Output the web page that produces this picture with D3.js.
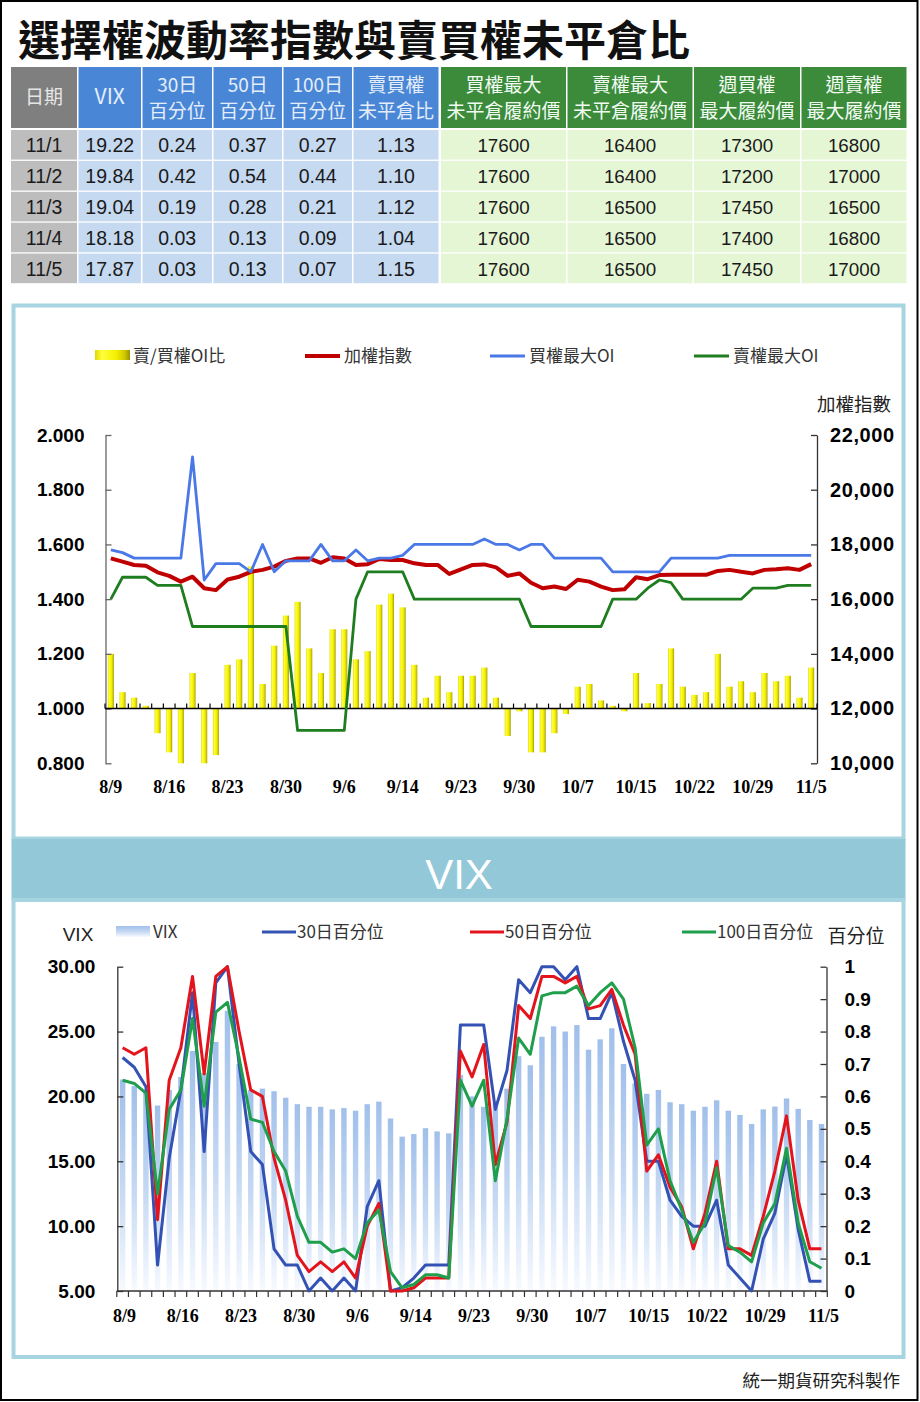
<!DOCTYPE html>
<html><head><meta charset="utf-8">
<script src="https://cdn.jsdelivr.net/npm/d3@7"></script>
<style>body{margin:0;background:#fff;} svg{display:block;}</style>
</head><body><svg id="c" width="920" height="1402"></svg>
<script>
// ---------------- DATA ----------------
const titleText = "選擇權波動率指數與賣買權未平倉比";
const dates = ["8/9","8/10","8/11","8/12","8/13","8/16","8/17","8/18","8/19","8/20","8/23","8/24","8/25","8/26","8/27","8/30","8/31","9/1","9/2","9/3","9/6","9/7","9/8","9/9","9/10","9/14","9/15","9/16","9/17","9/22","9/23","9/24","9/27","9/28","9/29","9/30","10/1","10/4","10/5","10/6","10/7","10/8","10/12","10/13","10/14","10/15","10/18","10/19","10/20","10/21","10/22","10/25","10/26","10/27","10/28","10/29","11/1","11/2","11/3","11/4","11/5"];
const xTickLabels = ["8/9","8/16","8/23","8/30","9/6","9/14","9/23","9/30","10/7","10/15","10/22","10/29","11/5"];

// chart 1
const pcRatio = [1.20,1.06,1.04,1.01,0.91,0.84,0.80,1.13,0.80,0.83,
  1.16,1.18,1.52,1.09,1.23,1.34,1.39,1.22,1.13,1.29,
  1.29,1.18,1.21,1.38,1.42,1.37,1.16,1.04,1.12,1.06,
  1.12,1.12,1.15,1.04,0.90,0.99,0.84,0.84,0.91,0.98,
  1.08,1.09,1.03,1.01,0.99,1.13,1.02,1.09,1.22,1.08,
  1.05,1.06,1.20,1.08,1.10,1.06,1.13,1.10,1.12,1.04,1.15];
const taiex = [17490,17370,17250,17220,16980,16850,16640,16820,16400,16330,
  16720,16820,17000,17070,17190,17400,17490,17490,17330,17530,
  17490,17250,17280,17470,17430,17430,17310,17250,17250,16920,
  17090,17250,17270,17160,16850,16940,16600,16400,16460,16370,
  16710,16640,16460,16330,16360,16800,16730,16880,16890,16890,
  16890,16890,17030,17070,17000,16940,17070,17090,17130,17070,17280];
const callMaxOI = [17800,17700,17500,17500,17500,17500,17500,21200,16700,17300,
  17300,17300,17000,18000,17000,17400,17400,17400,18000,17400,
  17400,17800,17400,17500,17500,17600,18000,18000,18000,18000,
  18000,18000,18200,18000,18000,17800,18000,18000,17500,17500,
  17500,17500,17500,17000,17000,17000,17000,17000,17500,17500,
  17500,17500,17500,17600,17600,17600,17600,17600,17600,17600,17600];
const putMaxOI = [16000,16800,16800,16800,16500,16500,16500,15000,15000,15000,
  15000,15000,15000,15000,15000,15000,11200,11200,11200,11200,
  11200,16000,17000,17000,17000,17000,16000,16000,16000,16000,
  16000,16000,16000,16000,16000,16000,15000,15000,15000,15000,
  15000,15000,15000,16000,16000,16000,16400,16700,16600,16000,
  16000,16000,16000,16000,16000,16400,16400,16400,16500,16500,16500];
const leftTicks1 = [0.8,1.0,1.2,1.4,1.6,1.8,2.0];
const rightTicks1 = [10000,12000,14000,16000,18000,20000,22000];
const legend1 = ["賣/買權OI比","加權指數","買權最大OI","賣權最大OI"];

// chart 2
const vix = [21.3,20.8,20.5,19.3,20.5,21.5,23.5,21.8,24.2,26.6,
  22.5,20.5,20.6,20.4,19.9,19.4,19.2,19.2,19.0,19.1,
  18.9,19.4,19.6,18.3,16.9,17.1,17.55,17.3,17.15,21.65,
  20.0,19.2,19.5,20.6,23.1,22.4,24.6,25.4,25.0,25.5,
  23.6,24.4,25.25,22.5,21.0,20.2,20.5,19.55,19.4,18.9,
  19.2,19.7,18.9,18.57,17.87,19.0,19.22,19.84,19.04,18.18,17.87];
const pct30 = [0.72,0.69,0.63,0.08,0.41,0.62,0.92,0.43,0.95,1.00,
  0.70,0.43,0.39,0.13,0.08,0.08,0.00,0.04,0.00,0.04,
  0.00,0.26,0.34,0.00,0.01,0.04,0.08,0.08,0.08,0.82,
  0.82,0.82,0.56,0.68,0.96,0.92,1.00,1.00,0.96,1.00,
  0.84,0.84,0.92,0.77,0.65,0.40,0.40,0.28,0.23,0.20,
  0.20,0.28,0.08,0.04,0.00,0.16,0.24,0.42,0.19,0.03,0.03];
const pct50 = [0.75,0.73,0.75,0.22,0.65,0.75,0.97,0.67,0.97,1.00,
  0.80,0.62,0.60,0.41,0.28,0.11,0.06,0.09,0.06,0.09,
  0.04,0.20,0.27,0.00,0.00,0.01,0.04,0.04,0.04,0.74,
  0.66,0.76,0.39,0.52,0.88,0.84,0.97,0.97,0.95,0.97,
  0.87,0.88,0.93,0.82,0.73,0.37,0.42,0.32,0.26,0.13,
  0.24,0.40,0.13,0.13,0.11,0.23,0.37,0.54,0.28,0.13,0.13];
const pct100 = [0.65,0.64,0.61,0.30,0.56,0.62,0.84,0.57,0.86,0.89,
  0.72,0.53,0.52,0.43,0.37,0.23,0.15,0.15,0.12,0.13,
  0.10,0.21,0.25,0.06,0.01,0.02,0.05,0.05,0.04,0.65,
  0.57,0.65,0.34,0.53,0.78,0.73,0.91,0.92,0.92,0.94,
  0.88,0.92,0.95,0.90,0.75,0.45,0.50,0.34,0.25,0.15,
  0.21,0.38,0.14,0.12,0.09,0.21,0.27,0.44,0.21,0.09,0.07];
const leftTicks2 = [5,10,15,20,25,30];
const rightTicks2 = [0,0.1,0.2,0.3,0.4,0.5,0.6,0.7,0.8,0.9,1];
const legend2 = ["VIX","30日百分位","50日百分位","100日百分位"];

// table
const tableHeaders = [["日期"],["VIX"],["30日","百分位"],["50日","百分位"],["100日","百分位"],["賣買權","未平倉比"],["買權最大","未平倉履約價"],["賣權最大","未平倉履約價"],["週買權","最大履約價"],["週賣權","最大履約價"]];
const tDate = ["11/1","11/2","11/3","11/4","11/5"];
const tVix = ["19.22","19.84","19.04","18.18","17.87"];
const tP30 = ["0.24","0.42","0.19","0.03","0.03"];
const tP50 = ["0.37","0.54","0.28","0.13","0.13"];
const tP100 = ["0.27","0.44","0.21","0.09","0.07"];
const tPC = ["1.13","1.10","1.12","1.04","1.15"];
const tCallStrike = ["17600","17600","17600","17600","17600"];
const tPutStrike = ["16400","16400","16500","16500","16500"];
const tWeekCall = ["17300","17200","17450","17400","17450"];
const tWeekPut = ["16800","17000","16500","16800","17000"];
const footer = "統一期貨研究科製作";

// ---------------- DRAW ----------------
const svg = d3.select("#c");
const CJK = "'Noto Sans CJK TC','Noto Sans CJK SC','Noto Sans CJK JP',sans-serif";
const SANS = "'Liberation Sans',Arial,sans-serif";
const SERIF = "'Liberation Serif','Times New Roman',serif";

const defs = svg.append("defs");
const yg = defs.append("linearGradient").attr("id","yg").attr("x1",0).attr("x2",1).attr("y1",0).attr("y2",0);
[[0,"#e0da00"],[0.2,"#ffff3a"],[0.6,"#f4f000"],[0.85,"#cfc700"],[1,"#9a9400"]].forEach(s=>yg.append("stop").attr("offset",s[0]).attr("stop-color",s[1]));
const bg = defs.append("linearGradient").attr("id","bg").attr("x1",0).attr("x2",0).attr("y1",0).attr("y2",1);
[[0,"#a0bfea"],[0.5,"#c4d8f3"],[1,"#f7faff"]].forEach(s=>bg.append("stop").attr("offset",s[0]).attr("stop-color",s[1]));

// outer frame
svg.append("rect").attr("x",1).attr("y",1).attr("width",916.5).attr("height",1399).attr("fill","none").attr("stroke","#000").attr("stroke-width",2);

// title
svg.append("text").attr("x",18).attr("y",56).attr("font-family",CJK).attr("font-weight",700)
  .attr("font-size",42).attr("fill","#111").text(titleText);

// table
const cols = [[11,77],[78.5,141],[142.5,212],[213.5,282],[283.5,352],[353.5,438.5],[441,566],[567.5,692.5],[694,800],[801.5,906.5]];
const headFill = ["#7f7f7f","#4a86d6","#4a86d6","#4a86d6","#4a86d6","#4a86d6","#3b8b3b","#3b8b3b","#3b8b3b","#3b8b3b"];
const cellFill = ["#bdbdbd","#c5d9f1","#c5d9f1","#c5d9f1","#c5d9f1","#c5d9f1","#e5f6d5","#e5f6d5","#e5f6d5","#e5f6d5"];
const headText = ["#e6e6e6","#e4eefb","#e4eefb","#e4eefb","#e4eefb","#e4eefb","#f2fbf2","#f2fbf2","#f2fbf2","#f2fbf2"];
const tableCols = [tDate,tVix,tP30,tP50,tP100,tPC,tCallStrike,tPutStrike,tWeekCall,tWeekPut];
const tg = svg.append("g");
tableHeaders.forEach((h,c)=>{
  const [x0,x1]=cols[c];
  tg.append("rect").attr("x",x0).attr("y",67).attr("width",x1-x0).attr("height",61).attr("fill",headFill[c]);
  const cx=(x0+x1)/2;
  if(h.length===1){
    tg.append("text").attr("x",cx).attr("y",104).attr("text-anchor","middle").attr("font-family",CJK)
      .attr("font-size",c===1?21:19).attr("fill",headText[c]).text(h[0]);
  } else {
    h.forEach((t,k)=>tg.append("text").attr("x",cx).attr("y",92+k*25.5).attr("text-anchor","middle")
      .attr("font-family",CJK).attr("font-size",19).attr("fill",headText[c]).text(t));
  }
  tableCols[c].forEach((v,r)=>{
    const ry=130+r*30.9;
    tg.append("rect").attr("x",x0).attr("y",ry).attr("width",x1-x0).attr("height",29.6).attr("fill",cellFill[c]);
    tg.append("text").attr("x",cx).attr("y",ry+22).attr("text-anchor","middle").attr("font-family",SANS)
      .attr("font-size",c>=6?18.8:19.5).attr("fill","#1a1a1a").text(v);
  });
});

// panels
const panelStroke = "#a6d4e1";
svg.append("rect").attr("x",13.5).attr("y",305.5).attr("width",890).attr("height",533).attr("fill","none").attr("stroke",panelStroke).attr("stroke-width",4);
svg.append("rect").attr("x",11.5).attr("y",839).attr("width",894).attr("height",61).attr("fill","#93c8d8");
svg.append("text").attr("x",459).attr("y",889).attr("text-anchor","middle").attr("font-family",SANS)
  .attr("font-size",42).attr("fill","#fff").text("VIX");
svg.append("rect").attr("x",13.5).attr("y",900).attr("width",890).attr("height",457).attr("fill","none").attr("stroke",panelStroke).attr("stroke-width",4);

// ---------- chart 1 ----------
const x1 = d3.scaleBand().domain(dates).range([105,817]);
const y1 = d3.scaleLinear().domain([0.8,2.0]).range([763.3,435]);
const y1r = d3.scaleLinear().domain([10000,22000]).range([763.3,435]);
const c1 = svg.append("g");
const cx1 = d => x1(d)+x1.bandwidth()/2;

c1.selectAll("rect.pc").data(pcRatio).join("rect").attr("class","pc")
  .attr("x",(d,i)=>cx1(dates[i])-3).attr("width",6)
  .attr("y",d=>Math.min(y1(d),y1(1))).attr("height",d=>Math.max(0.8,Math.abs(y1(d)-y1(1))))
  .attr("fill","url(#yg)");

function styleAxis(g, col, fs, fam, ls){
  g.select(".domain").attr("stroke",col).attr("stroke-width",1.3);
  g.selectAll(".tick line").attr("stroke",col).attr("stroke-width",1.3);
  g.selectAll(".tick text").attr("font-family",fam).attr("font-weight",700).attr("font-size",fs).attr("fill","#000")
    .attr("letter-spacing",ls||0);
}
const a1l = c1.append("g").attr("transform","translate(105.5,0)")
  .call(d3.axisLeft(y1).tickValues(leftTicks1).tickFormat(d3.format(".3f")).tickSize(-6).tickSizeOuter(0).tickPadding(21));
styleAxis(a1l,"#666",19,SANS);
const a1r = c1.append("g").attr("transform","translate(817,0)")
  .call(d3.axisRight(y1r).tickValues(rightTicks1).tickFormat(d3.format(",")).tickSize(-6).tickSizeOuter(0).tickPadding(13));
styleAxis(a1r,"#333",20,SANS,0.6);

c1.append("line").attr("x1",105).attr("x2",817).attr("y1",y1(1)).attr("y2",y1(1)).attr("stroke","#000").attr("stroke-width",1.5);
c1.selectAll("line.xt").data(d3.range(dates.length+1)).join("line").attr("class","xt")
  .attr("x1",i=>x1.range()[0]+i*x1.step()).attr("x2",i=>x1.range()[0]+i*x1.step())
  .attr("y1",y1(1)).attr("y2",y1(1)-5).attr("stroke","#000").attr("stroke-width",1.2);
c1.selectAll("text.xl").data(xTickLabels).join("text").attr("class","xl")
  .attr("x",d=>cx1(d)).attr("y",793).attr("text-anchor","middle").attr("font-family",SERIF)
  .attr("font-weight",700).attr("font-size",18).attr("fill","#000").text(d=>d);

const line1 = d3.line().x((d,i)=>cx1(dates[i])).y(d=>y1r(d));
c1.append("path").datum(taiex).attr("d",line1).attr("fill","none").attr("stroke","#c00000").attr("stroke-width",4).attr("stroke-linejoin","round");
c1.append("path").datum(callMaxOI).attr("d",line1).attr("fill","none").attr("stroke","#4a78e6").attr("stroke-width",2.8).attr("stroke-linejoin","round");
c1.append("path").datum(putMaxOI).attr("d",line1).attr("fill","none").attr("stroke","#1e7d1e").attr("stroke-width",2.8).attr("stroke-linejoin","round");

const lg1 = c1.append("g").attr("font-family",CJK).attr("font-size",17).attr("fill","#333");
lg1.append("rect").attr("x",95).attr("y",350).attr("width",35).attr("height",10).attr("fill","url(#yg)");
lg1.append("text").attr("x",133).attr("y",362).text(legend1[0]);
[[305,"#c00000",4,legend1[1]],[490,"#4a78e6",2.8,legend1[2]],[694,"#1e7d1e",2.8,legend1[3]]].forEach(l=>{
  lg1.append("line").attr("x1",l[0]).attr("x2",l[0]+35).attr("y1",356).attr("y2",356).attr("stroke",l[1]).attr("stroke-width",l[2]);
  lg1.append("text").attr("x",l[0]+39).attr("y",362).text(l[3]);
});
c1.append("text").attr("x",854).attr("y",411).attr("text-anchor","middle").attr("font-family",CJK)
  .attr("font-size",18.5).attr("fill","#222").text("加權指數");

// ---------- chart 2 ----------
const x2 = d3.scaleBand().domain(dates).range([116.8,827.3]);
const y2 = d3.scaleLinear().domain([5,30]).range([1291,966.7]);
const y2r = d3.scaleLinear().domain([0,1]).range([1291,966.7]);
const c2 = svg.append("g");
const cx2 = d => x2(d)+x2.bandwidth()/2;

c2.selectAll("rect.vx").data(vix).join("rect").attr("class","vx")
  .attr("x",(d,i)=>cx2(dates[i])-2.7).attr("width",5.4)
  .attr("y",d=>y2(d)).attr("height",d=>y2(5)-y2(d)).attr("fill","url(#bg)");

const a2l = c2.append("g").attr("transform","translate(117.3,0)")
  .call(d3.axisLeft(y2).tickValues(leftTicks2).tickFormat(d3.format(".2f")).tickSize(-6).tickSizeOuter(0).tickPadding(22));
styleAxis(a2l,"#333",19,SANS);
const a2r = c2.append("g").attr("transform","translate(826.5,0)")
  .call(d3.axisRight(y2r).tickValues(rightTicks2).tickFormat(d=>String(d)).tickSize(-6).tickSizeOuter(0).tickPadding(18));
styleAxis(a2r,"#333",19,SANS);

c2.append("line").attr("x1",116.8).attr("x2",827.3).attr("y1",1291).attr("y2",1291).attr("stroke","#333").attr("stroke-width",1.5);
c2.selectAll("line.xt").data(d3.range(dates.length+1)).join("line").attr("class","xt")
  .attr("x1",i=>x2.range()[0]+i*x2.step()).attr("x2",i=>x2.range()[0]+i*x2.step())
  .attr("y1",1291).attr("y2",1297).attr("stroke","#333").attr("stroke-width",1.2);
c2.selectAll("text.xl").data(xTickLabels).join("text").attr("class","xl")
  .attr("x",d=>cx2(d)+2).attr("y",1322).attr("text-anchor","middle").attr("font-family",SERIF)
  .attr("font-weight",700).attr("font-size",18).attr("fill","#000").text(d=>d);

const line2 = d3.line().x((d,i)=>cx2(dates[i])).y(d=>y2r(d));
c2.append("path").datum(pct30).attr("d",line2).attr("fill","none").attr("stroke","#3452b4").attr("stroke-width",3).attr("stroke-linejoin","round");
c2.append("path").datum(pct50).attr("d",line2).attr("fill","none").attr("stroke","#e3141c").attr("stroke-width",3).attr("stroke-linejoin","round");
c2.append("path").datum(pct100).attr("d",line2).attr("fill","none").attr("stroke","#1f9e4b").attr("stroke-width",3).attr("stroke-linejoin","round");

const lg2 = c2.append("g").attr("font-family",CJK).attr("font-size",17).attr("fill","#333");
lg2.append("rect").attr("x",116).attr("y",926).attr("width",34).attr("height",11).attr("fill","url(#bg)");
lg2.append("text").attr("x",153).attr("y",938).text(legend2[0]);
[[262,"#3452b4",legend2[1]],[470,"#e3141c",legend2[2]],[682,"#1f9e4b",legend2[3]]].forEach(l=>{
  lg2.append("line").attr("x1",l[0]).attr("x2",l[0]+34).attr("y1",932).attr("y2",932).attr("stroke",l[1]).attr("stroke-width",3);
  lg2.append("text").attr("x",l[0]+35).attr("y",938).text(l[2]);
});
c2.append("text").attr("x",78).attr("y",941).attr("text-anchor","middle").attr("font-family",SANS)
  .attr("font-size",19).attr("fill","#222").text("VIX");
c2.append("text").attr("x",856).attr("y",943).attr("text-anchor","middle").attr("font-family",CJK)
  .attr("font-size",19).attr("fill","#222").text("百分位");

svg.append("text").attr("x",900).attr("y",1387).attr("text-anchor","end").attr("font-family",CJK)
  .attr("font-size",17.5).attr("fill","#222").text(footer);
</script></body></html>
